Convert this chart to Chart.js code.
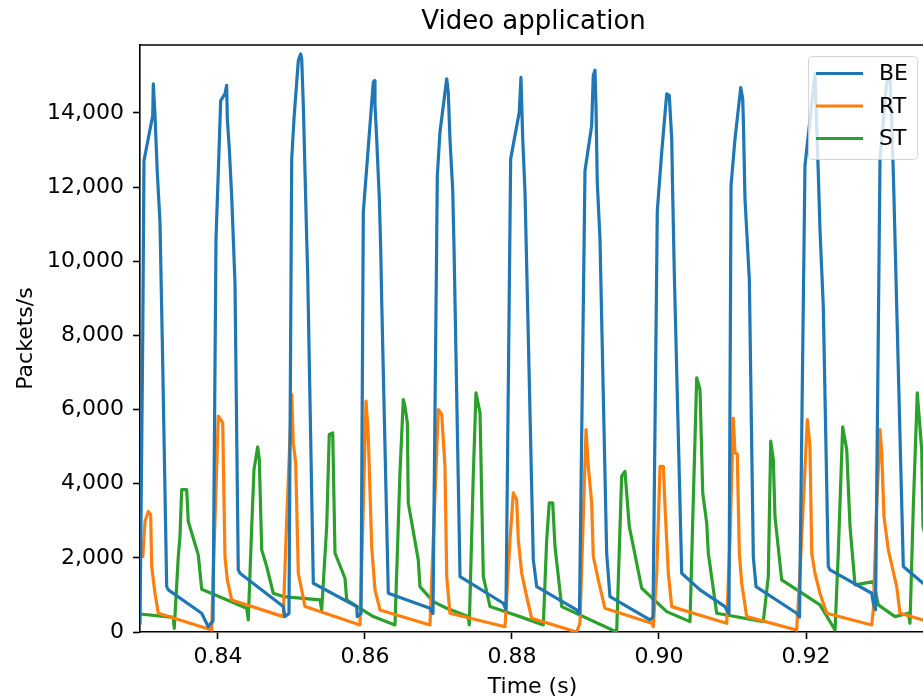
<!DOCTYPE html>
<html>
<head>
<meta charset="utf-8">
<title>Video application</title>
<script src="https://cdn.jsdelivr.net/npm/chart.js@4.4.1/dist/chart.umd.min.js"></script>
<style>
  html, body { margin: 0; padding: 0; background: #fff; overflow: hidden; }
  #wrap { width: 935px; height: 700px; }
</style>
</head>
<body>
<div id="wrap"><canvas id="chart" width="935" height="700"></canvas></div>
<script>
// Time axis (s) for each series, one line per burst period
const beTime = [
  0.82939, 0.82976, 0.82993, 0.83112, 0.83120, 0.83143, 0.83174, 0.83211, 0.83242, 0.83302, 0.83324, 0.83778, 0.83868,
  0.83932, 0.83973, 0.84037, 0.84095, 0.84118, 0.84127, 0.84154, 0.84186, 0.84231, 0.84276, 0.84299, 0.84888, 0.84912,
  0.84966, 0.85003, 0.85034, 0.85071, 0.85093, 0.85125, 0.85139, 0.85161, 0.85184, 0.85207, 0.85220, 0.85297, 0.85887, 0.85895,
  0.85946, 0.85977, 0.86113, 0.86127, 0.86136, 0.86159, 0.86195, 0.86214, 0.86227, 0.86317, 0.86884,
  0.86925, 0.86984, 0.87020, 0.87112, 0.87133, 0.87156, 0.87193, 0.87211, 0.87293, 0.87882,
  0.87918, 0.87982, 0.88099, 0.88122, 0.88146, 0.88177, 0.88200, 0.88290, 0.88336, 0.88880,
  0.88918, 0.88993, 0.89084, 0.89106, 0.89129, 0.89143, 0.89160, 0.89197, 0.89288, 0.89333, 0.89878,
  0.89918, 0.89977, 0.90037, 0.90105, 0.90140, 0.90173, 0.90186, 0.90208, 0.90309, 0.90558, 0.90898, 0.90921,
  0.90952, 0.90980, 0.91034, 0.91112, 0.91139, 0.91147, 0.91170, 0.91229, 0.91283, 0.91320, 0.91873,
  0.91912, 0.91986, 0.92122, 0.92167, 0.92190, 0.92235, 0.92303, 0.92327, 0.92894, 0.92916,
  0.92946, 0.93007, 0.93098, 0.93143, 0.93166, 0.93188, 0.93234, 0.93324, 0.93592, 0.93750
];
const beValues = [
  200, 7890, 12710, 13930, 14780, 13930, 12400, 11050, 7890, 1225, 1135, 505, 143,
  300, 10600, 14330, 14510, 14740, 13840, 13030, 11770, 9430, 1675, 1585, 685, 415,
  500, 12760, 13840, 14830, 15410, 15590, 15460, 14200, 12400, 10600, 9700, 1315, 685, 415,
  500, 11320, 14830, 14870, 14200, 13300, 11680, 10320, 8970, 1045, 640,
  500, 12300, 13480, 14920, 14560, 13300, 11950, 10410, 1495, 775,
  600, 12760, 14020, 14960, 13300, 11860, 9870, 1945, 1225, 595,
  500, 12440, 13660, 15010, 15150, 14200, 12130, 10600, 2125, 955, 325,
  400, 11360, 12940, 14510, 14470, 13300, 11860, 9690, 1585, 1135, 685, 595,
  500, 12040, 13300, 14680, 14380, 13840, 11680, 9510, 2035, 1225, 505,
  400, 12580, 15050, 12400, 10860, 8790, 1765, 1675, 1045, 775,
  600, 12760, 14830, 14920, 13750, 12400, 8790, 1765, 1315, 1200
];

const rtTime = [
  0.82976, 0.83007, 0.83052, 0.83084, 0.83098, 0.83143, 0.83188, 0.83914,
  0.83936, 0.84004, 0.84037, 0.84064, 0.84095, 0.84127, 0.84186, 0.84888,
  0.84935, 0.85003, 0.85024, 0.85057, 0.85093, 0.85184, 0.85388, 0.85932,
  0.85977, 0.86014, 0.86045, 0.86091, 0.86136, 0.86204, 0.86884,
  0.86929, 0.86997, 0.87044, 0.87088, 0.87112, 0.87156, 0.87905,
  0.87973, 0.88018, 0.88064, 0.88086, 0.88132, 0.88200, 0.88268, 0.88880,
  0.88925, 0.89007, 0.89038, 0.89084, 0.89106, 0.89174, 0.89265, 0.89901,
  0.89922, 0.89969, 0.90014, 0.90059, 0.90082, 0.90127, 0.90173, 0.90694,
  0.90921, 0.90966, 0.91011, 0.91034, 0.91065, 0.91093, 0.91125, 0.91193, 0.91873,
  0.91918, 0.92018, 0.92054, 0.92078, 0.92122, 0.92190, 0.92282, 0.92894,
  0.92916, 0.92962, 0.93007, 0.93030, 0.93061, 0.93120, 0.93234, 0.93279, 0.93592, 0.93750
];
const rtValues = [
  1990, 2980, 3250, 3160, 1765, 1045, 505, 54,
  1585, 5820, 5730, 5640, 2035, 1405, 865, 415,
  3030, 6405, 5100, 4560, 1585, 685, 550, 190,
  3390, 6225, 5280, 2305, 1135, 595, 190,
  2485, 6000, 5865, 4470, 1495, 505, 143,
  2485, 3750, 3570, 2485, 1585, 955, 370, 0,
  240, 5460, 4470, 3480, 2035, 1405, 640, 235,
  143, 1585, 4470, 4470, 3380, 1585, 685, 370,
  235, 2485, 5770, 4830, 4800, 2125, 1315, 415, 54,
  1585, 5730, 5010, 2125, 1585, 1045, 505, 190,
  600, 3390, 5460, 4830, 3110, 2215, 1225, 505, 325, 280
];

const stTime = [
  0.82939, 0.83392, 0.83405, 0.83460, 0.83483, 0.83506, 0.83574, 0.83596, 0.83732, 0.83778,
  0.84391, 0.84412, 0.84459, 0.84490, 0.84540, 0.84562, 0.84595, 0.84663, 0.84752, 0.84888,
  0.85388, 0.85411, 0.85479, 0.85514, 0.85561, 0.85592, 0.85728, 0.85751, 0.86113,
  0.86408, 0.86476, 0.86521, 0.86544, 0.86576, 0.86589, 0.86725, 0.86748, 0.86929, 0.87112,
  0.87405, 0.87419, 0.87473, 0.87510, 0.87565, 0.87610, 0.87701, 0.87973, 0.88109,
  0.88426, 0.88472, 0.88507, 0.88554, 0.88585, 0.88676,
  0.89424, 0.89492, 0.89537, 0.89596, 0.89765, 0.90105,
  0.90422, 0.90458, 0.90513, 0.90558, 0.90595, 0.90649, 0.90671, 0.90785,
  0.91419, 0.91487, 0.91520, 0.91555, 0.91578, 0.91669, 0.92190,
  0.92395, 0.92439, 0.92499, 0.92554, 0.92599, 0.92667, 0.92916, 0.92984, 0.93211,
  0.93392, 0.93415, 0.93460, 0.93514, 0.93574, 0.93592, 0.93750
];
const stValues = [
  485, 395, 100, 2035, 2575, 3840, 3840, 2980, 2080, 1155,
  640, 325, 2845, 4380, 4990, 4650, 2215, 1765, 1045, 955,
  865, 595, 2845, 5325, 5370, 2125, 1450, 865, 415,
  190, 4290, 6270, 6090, 5640, 3480, 1945, 1225, 820, 640,
  415, 190, 4200, 6450, 5910, 1495, 685, 505, 415,
  190, 2485, 3480, 3480, 2305, 685,
  0, 4200, 4330, 2845, 1180, 550,
  280, 2935, 6855, 6540, 3750, 2935, 2125, 505,
  280, 1495, 5145, 4650, 3110, 1405, 730,
  54, 2125, 5530, 4920, 2845, 1270, 1360, 730, 415,
  505, 235, 3380, 6450, 4920, 2845, 1500
];

const seriesNames = ['BE', 'RT', 'ST'];
const seriesColors = ['#1f77b4', '#ff7f0e', '#2ca02c'];
const xTicks = [0.84, 0.86, 0.88, 0.90, 0.92];
const yTicks = [0, 2000, 4000, 6000, 8000, 10000, 12000, 14000];

const FONT = 'DejaVu Sans';

function toPoints(times, values) {
    return times.map((t, i) => ({ x: t, y: values[i] }));
}

// Title, axis labels, top spine and the boxed legend
const decorPlugin = {
    id: 'decor',
    afterDatasetsDraw(chart) {
        const ctx = chart.ctx;
        const area = chart.chartArea;
        ctx.save();

        // top spine
        ctx.strokeStyle = '#000';
        ctx.lineWidth = 1.6;
        ctx.beginPath();
        ctx.moveTo(area.left - 0.8, area.top);
        ctx.lineTo(area.right, area.top);
        ctx.stroke();

        // legend
        const lx = 808, ly = 56, lw = 109, lh = 103;
        ctx.beginPath();
        ctx.roundRect(lx + 0.5, ly + 0.5, lw, lh, 4);
        ctx.fillStyle = 'rgba(255,255,255,0.8)';
        ctx.fill();
        ctx.strokeStyle = 'rgba(204,204,204,0.8)';
        ctx.lineWidth = 1;
        ctx.stroke();

        ctx.font = '22px "' + FONT + '"';
        ctx.textBaseline = 'middle';
        ctx.textAlign = 'left';
        seriesNames.forEach((name, i) => {
            const y = 73.5 + i * 32.5;
            ctx.strokeStyle = seriesColors[i];
            ctx.lineWidth = 3.2;
            ctx.beginPath();
            ctx.moveTo(816, y);
            ctx.lineTo(863, y);
            ctx.stroke();
            ctx.fillStyle = '#000';
            ctx.fillText(name, 879, y + 1);
        });

        // title
        const cx = (area.left + area.right) / 2;
        ctx.fillStyle = '#000';
        ctx.textAlign = 'center';
        ctx.textBaseline = 'alphabetic';
        ctx.font = '26px "' + FONT + '"';
        ctx.fillText('Video application', cx + 1, 29);

        // axis titles
        ctx.font = '22px "' + FONT + '"';
        ctx.textBaseline = 'middle';
        ctx.fillText('Time (s)', cx, 687);

        ctx.translate(26, (area.top + area.bottom) / 2);
        ctx.rotate(-Math.PI / 2);
        ctx.fillText('Packets/s', 0, 0);

        ctx.restore();
    }
};

const tickFont = { family: FONT, size: 22 };

new Chart(document.getElementById('chart'), {
    type: 'line',
    data: {
        datasets: [
            { label: seriesNames[0], data: toPoints(beTime, beValues) },
            { label: seriesNames[1], data: toPoints(rtTime, rtValues) },
            { label: seriesNames[2], data: toPoints(stTime, stValues) }
        ].map((ds, i) => Object.assign(ds, {
            borderColor: seriesColors[i],
            backgroundColor: seriesColors[i],
            borderWidth: 3.2,
            pointRadius: 0,
            tension: 0,
            fill: false,
            borderJoinStyle: 'round'
        }))
    },
    options: {
        responsive: false,
        animation: false,
        devicePixelRatio: 1,
        layout: { padding: { top: 45, right: 10, left: 0, bottom: 0 } },
        plugins: {
            legend: { display: false },
            title: { display: false },
            tooltip: { enabled: false }
        },
        scales: {
            x: {
                type: 'linear',
                min: 0.82939,
                max: 0.93619,
                afterBuildTicks: s => { s.ticks = xTicks.map(v => ({ value: v })); },
                afterFit: s => { s.height = 68; },
                ticks: {
                    callback: v => v.toFixed(2),
                    font: tickFont,
                    color: '#000',
                    padding: 5,
                    maxRotation: 0,
                    autoSkip: false
                },
                grid: {
                    drawOnChartArea: false,
                    drawTicks: true,
                    tickLength: 7,
                    tickWidth: 1.6,
                    tickColor: '#000'
                },
                border: { display: true, color: '#000', width: 1.6 }
            },
            y: {
                min: 0,
                max: 15830,
                afterBuildTicks: s => { s.ticks = yTicks.map(v => ({ value: v })); },
                afterFit: s => { s.width = 140; },
                ticks: {
                    callback: v => v.toLocaleString('en-US'),
                    font: tickFont,
                    color: '#000',
                    padding: 9
                },
                grid: {
                    drawOnChartArea: false,
                    drawTicks: true,
                    tickLength: 7,
                    tickWidth: 1.6,
                    tickColor: '#000'
                },
                border: { display: true, color: '#000', width: 1.6 }
            }
        }
    },
    plugins: [decorPlugin]
});
</script>
</body>
</html>
